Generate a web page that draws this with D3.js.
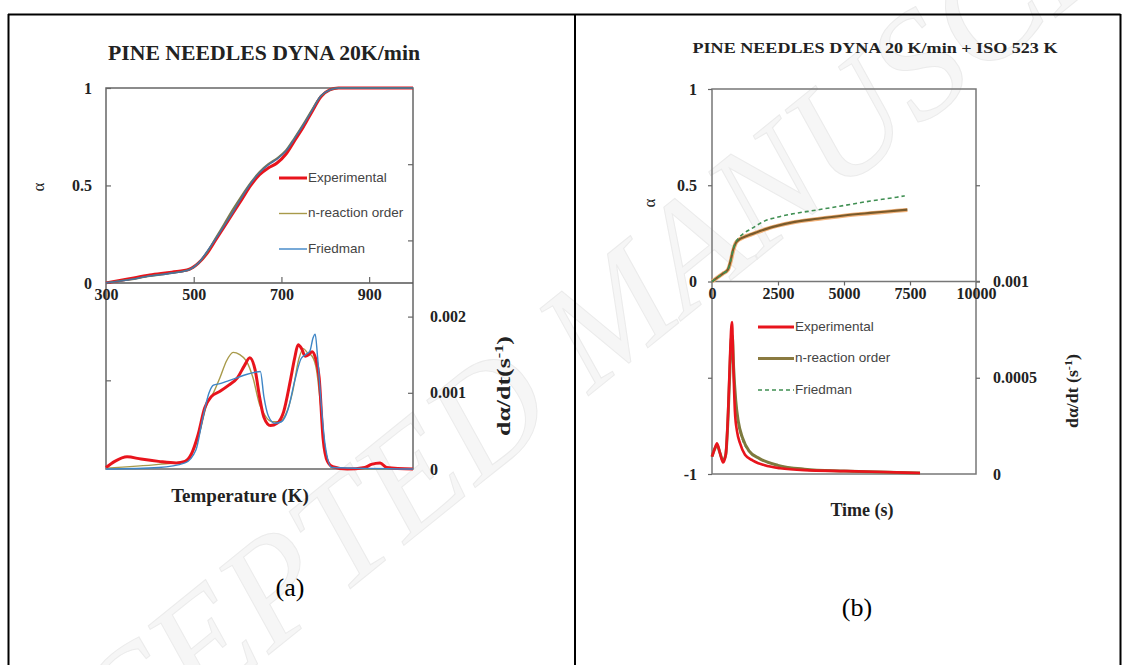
<!DOCTYPE html>
<html>
<head>
<meta charset="utf-8">
<script src="https://cdn.jsdelivr.net/npm/d3@7"></script>
<style>
  body { margin: 0; background: #fff; }
  svg { display: block; }
  .tick text { font-family: "Liberation Serif", "Times New Roman", serif; font-weight: bold; fill: #222; }
</style>
</head>
<body>
<svg id="fig" width="1129" height="665"></svg>
<script>
// ---------- (a) dynamic run, 20 K/min : conversion vs temperature ----------
const alphaTemp = [300, 350, 400, 450, 490, 510, 530, 550, 570, 590, 610, 630, 650, 670, 690, 710, 730, 750, 770, 790, 810, 830, 900, 1000];
const alphaExpA = [0, 0.02, 0.04, 0.055, 0.07, 0.10, 0.15, 0.22, 0.29, 0.36, 0.43, 0.50, 0.555, 0.59, 0.615, 0.66, 0.73, 0.80, 0.88, 0.955, 0.99, 1.0, 1.0, 1.0];
const alphaNA   = [0, 0.015, 0.035, 0.05, 0.068, 0.10, 0.155, 0.23, 0.305, 0.38, 0.45, 0.515, 0.57, 0.61, 0.64, 0.68, 0.745, 0.815, 0.89, 0.96, 0.99, 1.0, 1.0, 1.0];
const alphaFA   = [0, 0.015, 0.035, 0.05, 0.068, 0.10, 0.16, 0.225, 0.295, 0.365, 0.44, 0.51, 0.565, 0.605, 0.635, 0.675, 0.74, 0.81, 0.885, 0.96, 0.99, 1.0, 1.0, 1.0];

// (a) conversion rate dα/dt (s^-1) vs temperature
const rateExpTempA = [300, 320, 348, 380, 420, 460, 480, 495, 510, 525, 540, 560, 580, 600, 615, 628, 640, 650, 660, 675, 690, 705, 720, 730, 738, 746, 754, 762, 770, 778, 786, 795, 805, 817, 850, 890, 905, 925, 940, 1000];
const rateExpA = [0.00002, 0.0001, 0.00016, 0.00013, 0.0001, 0.00008, 0.0001, 0.0002, 0.00045, 0.0008, 0.00095, 0.00102, 0.0011, 0.0012, 0.00135, 0.00146, 0.0013, 0.00095, 0.00068, 0.00057, 0.0006, 0.00075, 0.00115, 0.00145, 0.00163, 0.00158, 0.00148, 0.0015, 0.00154, 0.00145, 0.0012, 0.0004, 0.0001, 0.00003, 0, 0.00002, 0.00006, 0.00008, 0.00002, 0];
const rateNTempA = [300, 420, 480, 510, 530, 545, 560, 575, 590, 605, 620, 635, 650, 665, 680, 695, 710, 725, 740, 750, 760, 770, 780, 790, 800, 815, 850, 1000];
const rateNA = [0.00001, 0.00006, 0.0001, 0.0004, 0.00085, 0.001, 0.0012, 0.00142, 0.00153, 0.0015, 0.00142, 0.0012, 0.00085, 0.00068, 0.00062, 0.00062, 0.00072, 0.001, 0.00145, 0.00158, 0.00152, 0.00148, 0.0013, 0.0008, 0.00025, 0.00002, 0, 0];
const rateFTempA = [300, 420, 480, 505, 520, 535, 545, 560, 580, 600, 620, 640, 652, 660, 670, 685, 700, 715, 730, 745, 755, 765, 772, 777, 782, 790, 800, 815, 1000];
const rateFA = [0, 0.00002, 0.00008, 0.00025, 0.00065, 0.001, 0.0011, 0.00112, 0.00116, 0.0012, 0.00124, 0.00127, 0.00128, 0.00095, 0.0007, 0.0006, 0.00062, 0.00078, 0.00115, 0.00145, 0.0015, 0.00155, 0.00172, 0.00177, 0.0015, 0.0009, 0.0003, 0.00002, 0];

// ---------- (b) dynamic 20 K/min + isothermal 523 K : vs time ----------
const alphaTimeB = [0, 200, 400, 600, 700, 800, 900, 1000, 1200, 1500, 2000, 2500, 3000, 4000, 5000, 6000, 7000, 7400];
const alphaExpB = [0, 0.02, 0.04, 0.06, 0.10, 0.16, 0.20, 0.215, 0.23, 0.245, 0.27, 0.29, 0.305, 0.325, 0.342, 0.355, 0.367, 0.372];
const alphaNB   = [0, 0.02, 0.04, 0.062, 0.105, 0.165, 0.20, 0.215, 0.23, 0.246, 0.271, 0.29, 0.306, 0.326, 0.343, 0.356, 0.368, 0.373];
const alphaFTimeB = [0, 200, 400, 600, 700, 800, 900, 1000, 1200, 1500, 2000, 2500, 3000, 4000, 5000, 6000, 7000, 7300];
const alphaFB   = [0, 0.02, 0.04, 0.062, 0.105, 0.165, 0.205, 0.225, 0.25, 0.275, 0.315, 0.335, 0.35, 0.372, 0.395, 0.418, 0.438, 0.445];

const rateExpTimeB = [0, 100, 190, 300, 420, 520, 610, 680, 730, 760, 800, 870, 950, 1060, 1250, 1550, 2000, 2580, 3500, 5110, 6500, 7880];
const rateExpB = [0.00009, 0.00013, 0.00016, 0.00011, 0.00006, 0.0001, 0.00032, 0.0006, 0.00076, 0.00079, 0.0006, 0.00032, 0.00022, 0.00016, 0.0001, 0.00007, 0.000045, 0.00003, 0.00002, 0.000015, 0.00001, 0.000005];
const rateNTimeB = [0, 100, 190, 300, 420, 520, 610, 680, 730, 770, 820, 900, 1000, 1150, 1400, 1800, 2500, 3500, 5000, 7000, 7880];
const rateNB = [0.00009, 0.00013, 0.00015, 0.00011, 0.00007, 0.0001, 0.0003, 0.00055, 0.0007, 0.00072, 0.00055, 0.00038, 0.00027, 0.00019, 0.00012, 0.00008, 0.000045, 0.000025, 0.000015, 0.000008, 0.000005];
const rateFB = [0.00009, 0.00013, 0.00015, 0.00011, 0.00007, 0.0001, 0.0003, 0.00054, 0.00068, 0.0007, 0.00054, 0.00037, 0.00026, 0.00018, 0.00012, 0.00008, 0.000045, 0.000025, 0.000015, 0.000008, 0.000005];

// axis ticks
const tempTicks = [300, 500, 700, 900];
const alphaTicksA = [-0.5, 0, 0.5, 1];
const alphaLabelsA = [0, 0.5, 1];
const rateTicksA = [0.001, 0.002, 0.003, 0.004];
const rateLabelsA = [0, 0.001, 0.002];
const timeTicks = [0, 2500, 5000, 7500, 10000];
const alphaTicksB = [-1, -0.5, 0, 0.5, 1];
const alphaLabelsB = [-1, 0, 0.5, 1];
const rateTicksB = [0.0005, 0.001, 0.0015];
const rateLabelsB = [0, 0.0005, 0.001];

const seriesNames = ["Experimental", "n-reaction order", "Friedman"];

const svg = d3.select("#fig");
const serif = '"Liberation Serif", "Times New Roman", serif';
const sans = '"Liberation Sans", Arial, sans-serif';

// watermark
svg.append("text")
  .attr("transform", "translate(615,330) rotate(-39)")
  .attr("text-anchor", "middle")
  .attr("dominant-baseline", "middle")
  .style("font-family", serif).style("font-style", "italic")
  .style("font-size", "150px")
  .attr("fill", "#f6f6f6").attr("stroke", "#ebebeb").attr("stroke-width", 1)
  .text("ACCEPTED MANUSCRIPT");

// table frame
svg.append("path")
  .attr("d", "M8,14.5H1120.5M8.5,14V665M575,14V665M1120.5,14V665")
  .attr("stroke", "#000").attr("stroke-width", 2).attr("fill", "none");

function line(x, y, xs, ys) {
  return d3.line().x((d, i) => x(xs[i])).y(d => y(d)).curve(d3.curveMonotoneX)(ys);
}

function axisStyle(g) {
  g.select(".domain").remove();
  g.selectAll(".tick line").attr("stroke", "#666").attr("stroke-width", 1.2);
}

// ================= panel (a) =================
{
  const x = d3.scaleLinear([300, 1000], [106, 413]);
  const yA = d3.scaleLinear([-0.955, 1], [469, 88]);
  const yR = d3.scaleLinear([0, 0.005], [469, 88]);
  const g = svg.append("g");

  g.append("rect").attr("x", 106).attr("y", 88).attr("width", 307).attr("height", 381)
    .attr("fill", "none").attr("stroke", "#666").attr("stroke-width", 1.5);
  g.append("line").attr("x1", 106).attr("x2", 413).attr("y1", yA(0)).attr("y2", yA(0))
    .attr("stroke", "#555").attr("stroke-width", 1.5);

  // tick marks
  g.append("g").attr("transform", "translate(106,0)")
    .call(d3.axisRight(yA).tickValues(alphaTicksA).tickSize(5).tickFormat("")).call(axisStyle);
  g.append("g").attr("transform", "translate(413,0)")
    .call(d3.axisLeft(yR).tickValues(rateTicksA).tickSize(5).tickFormat("")).call(axisStyle);
  g.append("g").attr("transform", `translate(0,${yA(0)})`)
    .call(d3.axisTop(x).tickValues(tempTicks.slice(1)).tickSize(6).tickFormat("")).call(axisStyle);

  // tick labels
  g.append("g").attr("transform", "translate(92,0)")
    .call(d3.axisLeft(yA).tickValues(alphaLabelsA).tickSize(0).tickPadding(0).tickFormat(d => String(d)))
    .call(a => a.select(".domain").remove()).selectAll("text").style("font-size", "16px");
  g.append("g").attr("transform", "translate(430,0)")
    .call(d3.axisRight(yR).tickValues(rateLabelsA).tickSize(0).tickPadding(0).tickFormat(d => String(d)))
    .call(a => a.select(".domain").remove()).selectAll("text").style("font-size", "16px");
  g.append("g").attr("transform", `translate(0,${yA(0) + 6})`)
    .call(d3.axisBottom(x).tickValues(tempTicks).tickSize(0).tickPadding(0).tickFormat(d => String(d)))
    .call(a => a.select(".domain").remove()).selectAll("text").style("font-size", "16px");

  // curves: conversion
  g.append("path").attr("d", line(x, yA, alphaTemp, alphaExpA)).attr("fill", "none").attr("stroke", "#e8141c").attr("stroke-width", 3);
  g.append("path").attr("d", line(x, yA, alphaTemp, alphaNA)).attr("fill", "none").attr("stroke", "#7d7a4a").attr("stroke-width", 1.8);
  g.append("path").attr("d", line(x, yA, alphaTemp, alphaFA)).attr("fill", "none").attr("stroke", "#4a6f9c").attr("stroke-width", 1.6);

  // curves: rate
  g.append("path").attr("d", line(x, yR, rateNTempA, rateNA)).attr("fill", "none").attr("stroke", "#a89a4a").attr("stroke-width", 1.4);
  g.append("path").attr("d", line(x, yR, rateExpTempA, rateExpA)).attr("fill", "none").attr("stroke", "#e8141c").attr("stroke-width", 3);
  g.append("path").attr("d", line(x, yR, rateFTempA, rateFA)).attr("fill", "none").attr("stroke", "#3d85c6").attr("stroke-width", 1.4);

  // legend
  const legStyles = [
    { c: "#e8141c", w: 3, dash: null },
    { c: "#a89a4a", w: 1.4, dash: null },
    { c: "#3d85c6", w: 1.4, dash: null }
  ];
  seriesNames.forEach((n, i) => {
    const yy = 178 + i * 35.5;
    g.append("line").attr("x1", 279).attr("x2", 307).attr("y1", yy).attr("y2", yy)
      .attr("stroke", legStyles[i].c).attr("stroke-width", legStyles[i].w);
    g.append("text").attr("x", 308).attr("y", yy).attr("dominant-baseline", "middle")
      .style("font-family", sans).style("font-size", "13.5px").attr("fill", "#444").text(n);
  });

  // titles
  g.append("text").attr("x", 264).attr("y", 60).attr("text-anchor", "middle")
    .attr("textLength", 312).attr("lengthAdjust", "spacingAndGlyphs")
    .style("font-family", serif).style("font-weight", "bold").style("font-size", "20px").attr("fill", "#222")
    .text("PINE NEEDLES DYNA 20K/min");
  g.append("text").attr("x", 240).attr("y", 502).attr("text-anchor", "middle")
    .style("font-family", serif).style("font-weight", "bold").style("font-size", "19px").attr("fill", "#222")
    .text("Temperature  (K)");
  g.append("text").attr("transform", "translate(44,187) rotate(-90)").attr("text-anchor", "middle")
    .style("font-family", serif).style("font-size", "17px").attr("fill", "#222").text("α");
  g.append("text").attr("transform", "translate(510,386) rotate(-90)").attr("text-anchor", "middle")
    .attr("textLength", 100).attr("lengthAdjust", "spacingAndGlyphs")
    .style("font-family", serif).style("font-weight", "bold").style("font-size", "19px").attr("fill", "#222")
    .html('dα/dt(s<tspan dy="-7" font-size="12">-1</tspan><tspan dy="7">)</tspan>');
  svg.append("text").attr("x", 290).attr("y", 596).attr("text-anchor", "middle")
    .style("font-family", serif).style("font-size", "26px").attr("fill", "#000").text("(a)");
}

// ================= panel (b) =================
{
  const x = d3.scaleLinear([0, 10000], [712, 976]);
  const yA = d3.scaleLinear([-1, 1], [474, 89]);
  const yR = d3.scaleLinear([0, 0.002], [474, 89]);
  const g = svg.append("g");

  g.append("rect").attr("x", 712).attr("y", 89).attr("width", 264).attr("height", 385)
    .attr("fill", "none").attr("stroke", "#777").attr("stroke-width", 1.5);
  g.append("line").attr("x1", 712).attr("x2", 980).attr("y1", yA(0)).attr("y2", yA(0))
    .attr("stroke", "#777").attr("stroke-width", 1.5);

  g.append("g").attr("transform", "translate(712,0)")
    .call(d3.axisLeft(yA).tickValues(alphaTicksB).tickSize(4).tickFormat("")).call(axisStyle);
  g.append("g").attr("transform", "translate(976,0)")
    .call(d3.axisRight(yR).tickValues(rateTicksB).tickSize(4).tickFormat("")).call(axisStyle);
  g.append("g").attr("transform", `translate(0,${yA(0)})`)
    .call(d3.axisBottom(x).tickValues(timeTicks.slice(1, 4)).tickSize(4).tickFormat("")).call(axisStyle);

  g.append("g").attr("transform", "translate(697,0)")
    .call(d3.axisLeft(yA).tickValues(alphaLabelsB).tickSize(0).tickPadding(0).tickFormat(d => String(d)))
    .call(a => a.select(".domain").remove()).selectAll("text").style("font-size", "16px");
  g.append("g").attr("transform", "translate(993,0)")
    .call(d3.axisRight(yR).tickValues(rateLabelsB).tickSize(0).tickPadding(0).tickFormat(d => String(d)))
    .call(a => a.select(".domain").remove()).selectAll("text").style("font-size", "16px");
  g.append("g").attr("transform", `translate(0,${yA(0) + 6})`)
    .call(d3.axisBottom(x).tickValues(timeTicks).tickSize(0).tickPadding(0).tickFormat(d => String(d)))
    .call(a => a.select(".domain").remove()).selectAll("text").style("font-size", "16px");

  // conversion curves
  g.append("path").attr("d", line(x, yA, alphaTimeB, alphaExpB)).attr("fill", "none").attr("stroke", "#f2b27a").attr("stroke-width", 4);
  g.append("path").attr("d", line(x, yA, alphaTimeB, alphaNB)).attr("fill", "none").attr("stroke", "#7a5a2a").attr("stroke-width", 2.2);
  g.append("path").attr("d", line(x, yA, alphaFTimeB, alphaFB)).attr("fill", "none").attr("stroke", "#3f8f52")
    .attr("stroke-width", 1.6).attr("stroke-dasharray", "4,3");

  // rate curves
  g.append("path").attr("d", line(x, yR, rateNTimeB, rateFB)).attr("fill", "none").attr("stroke", "#3f8f52")
    .attr("stroke-width", 1.6).attr("stroke-dasharray", "4,3");
  g.append("path").attr("d", line(x, yR, rateNTimeB, rateNB)).attr("fill", "none").attr("stroke", "#7d7a3e").attr("stroke-width", 3);
  g.append("path").attr("d", line(x, yR, rateExpTimeB, rateExpB)).attr("fill", "none").attr("stroke", "#e8141c").attr("stroke-width", 2.6);

  const legStyles = [
    { c: "#e8141c", w: 3, dash: null },
    { c: "#8a7a40", w: 3, dash: null },
    { c: "#3f8f52", w: 1.6, dash: "4,3" }
  ];
  seriesNames.forEach((n, i) => {
    const yy = 327 + i * 31.5;
    g.append("line").attr("x1", 758).attr("x2", 794).attr("y1", yy).attr("y2", yy)
      .attr("stroke", legStyles[i].c).attr("stroke-width", legStyles[i].w)
      .attr("stroke-dasharray", legStyles[i].dash);
    g.append("text").attr("x", 795).attr("y", yy).attr("dominant-baseline", "middle")
      .style("font-family", sans).style("font-size", "13.5px").attr("fill", "#444").text(n);
  });

  g.append("text").attr("x", 875).attr("y", 53).attr("text-anchor", "middle")
    .attr("textLength", 365).attr("lengthAdjust", "spacingAndGlyphs")
    .style("font-family", serif).style("font-weight", "bold").style("font-size", "15px").attr("fill", "#222")
    .text("PINE NEEDLES DYNA 20 K/min + ISO 523 K");
  g.append("text").attr("x", 862).attr("y", 516).attr("text-anchor", "middle")
    .style("font-family", serif).style("font-weight", "bold").style("font-size", "18px").attr("fill", "#222")
    .text("Time (s)");
  g.append("text").attr("transform", "translate(655,203) rotate(-90)").attr("text-anchor", "middle")
    .style("font-family", serif).style("font-size", "17px").attr("fill", "#222").text("α");
  g.append("text").attr("transform", "translate(1078,391) rotate(-90)").attr("text-anchor", "middle")
    .attr("textLength", 74).attr("lengthAdjust", "spacingAndGlyphs")
    .style("font-family", serif).style("font-weight", "bold").style("font-size", "16px").attr("fill", "#222")
    .html('dα/dt (s<tspan dy="-6" font-size="11">-1</tspan><tspan dy="6">)</tspan>');
  svg.append("text").attr("x", 857).attr("y", 616).attr("text-anchor", "middle")
    .style("font-family", serif).style("font-size", "26px").attr("fill", "#000").text("(b)");
}
</script>
</body>
</html>
